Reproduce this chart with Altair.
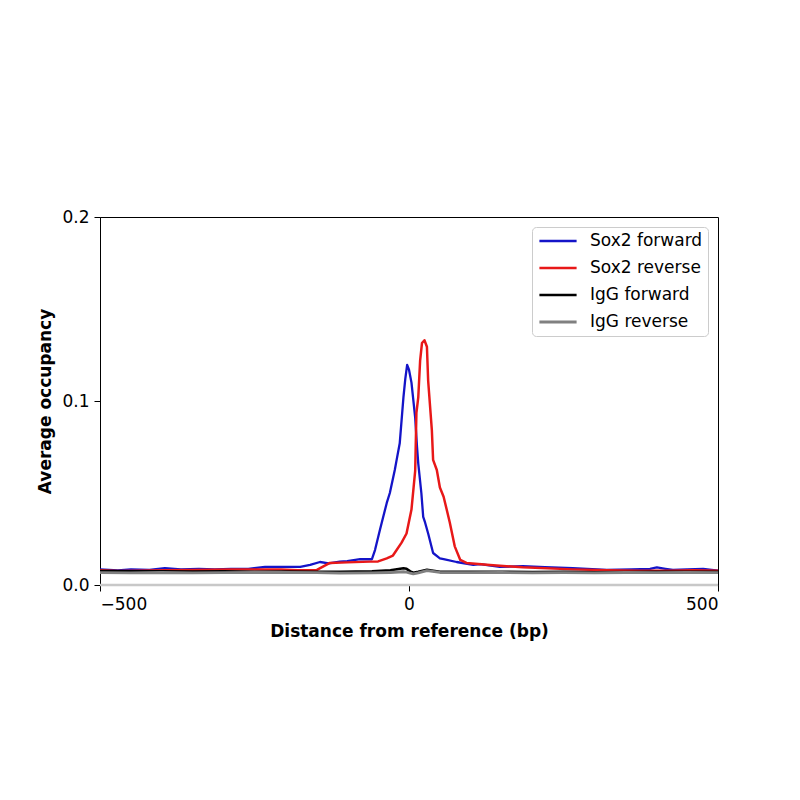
import altair as alt
import pandas as pd

series_names = ["Sox2 forward", "Sox2 reverse", "IgG forward", "IgG reverse"]
series_colors = ["#1414c8", "#e81818", "#000000", "#808080"]
series_widths = [2.3, 2.8, 2.2, 2.8]

# Sox2 forward
fwd_x = [-500, -471, -450, -420, -395, -369, -340, -314, -288, -260, -233, -200, -176, -160, -144,
         -130, -112, -100, -79, -70, -60, -55, -47, -36, -31, -23, -20, -15, -9, -6, -3, 0, 4, 10,
         13, 15, 20, 23, 26, 31, 39, 50, 56, 77, 104, 115, 147, 184, 220, 265, 320, 360, 390, 401,
         415, 427, 450, 476, 500]
fwd_y = [0.0085, 0.0080, 0.0085, 0.0082, 0.0092, 0.0085, 0.0087, 0.0085, 0.0088, 0.0088, 0.0098,
         0.0098, 0.0098, 0.0109, 0.0125, 0.0118, 0.0127, 0.0130, 0.0141, 0.0140, 0.0140, 0.0190,
         0.0300, 0.0446, 0.0500, 0.0625, 0.0680, 0.0770, 0.1020, 0.1120, 0.1196, 0.1170, 0.1100,
         0.0910, 0.0750, 0.0660, 0.0500, 0.0370, 0.0340, 0.0280, 0.0174, 0.0145, 0.0141, 0.0125,
         0.0109, 0.0114, 0.0098, 0.0103, 0.0097, 0.0091, 0.0082, 0.0085, 0.0088, 0.0096, 0.0088,
         0.0082, 0.0085, 0.0087, 0.0078]

# Sox2 reverse
rev_x = [-500, -471, -440, -395, -350, -288, -250, -207, -180, -149, -128, -100, -63, -50, -36,
         -26, -20, -12, -4, 4, 10, 12, 15, 18, 21, 25, 29, 31, 37, 39, 45, 50, 56, 66, 74, 83, 93,
         131, 184, 265, 320, 374, 420, 460, 500]
rev_y = [0.0080, 0.0076, 0.0078, 0.0080, 0.0082, 0.0085, 0.0085, 0.0085, 0.0080, 0.0082, 0.0120,
         0.0123, 0.0127, 0.0128, 0.0145, 0.0160, 0.0190, 0.0230, 0.0280, 0.0410, 0.0620, 0.0935,
         0.1020, 0.1220, 0.1315, 0.1330, 0.1295, 0.1110, 0.0840, 0.0680, 0.0625, 0.0530, 0.0480,
         0.0340, 0.0210, 0.0136, 0.0120, 0.0109, 0.0096, 0.0085, 0.0080, 0.0078, 0.0078, 0.0080,
         0.0078]

# IgG forward
igf_x = [-500, -450, -400, -350, -300, -250, -200, -150, -112, -60, -30, -9, -4, 2, 7, 15, 29, 50,
         100, 150, 200, 250, 300, 350, 400, 450, 500]
igf_y = [0.0076, 0.0074, 0.0075, 0.0073, 0.0074, 0.0072, 0.0073, 0.0072, 0.0072, 0.0075, 0.0080,
         0.0091, 0.0088, 0.0074, 0.0067, 0.0072, 0.0082, 0.0072, 0.0071, 0.0072, 0.0070, 0.0071,
         0.0069, 0.0070, 0.0072, 0.0071, 0.0072]

# IgG reverse
igr_x = [-500, -450, -400, -350, -300, -250, -200, -150, -112, -60, -30, -9, -4, 2, 7, 15, 29, 50,
         100, 150, 200, 250, 300, 350, 400, 450, 500]
igr_y = [0.0067, 0.0066, 0.0068, 0.0066, 0.0067, 0.0068, 0.0068, 0.0067, 0.0064, 0.0066, 0.0068,
         0.0072, 0.0070, 0.0064, 0.0060, 0.0066, 0.0078, 0.0068, 0.0067, 0.0068, 0.0066, 0.0067,
         0.0066, 0.0068, 0.0067, 0.0068, 0.0067]

x_ticks = [-500, 0, 500]
y_ticks = [0.0, 0.1, 0.2]

rows = []
for i, (xs, ys) in enumerate([(fwd_x, fwd_y), (rev_x, rev_y), (igf_x, igf_y), (igr_x, igr_y)]):
    for j, (xv, yv) in enumerate(zip(xs, ys)):
        rows.append({"series": series_names[i], "order": i, "idx": j, "x": xv, "y": yv})
df = pd.DataFrame(rows)

FONT = "DejaVu Sans"

legend = alt.Legend(
    title=None, orient="top-right", offset=10, padding=5.5,
    strokeColor="#cccccc", cornerRadius=4, fillColor="white",
    symbolType="M-1.1,0H5.1", symbolSize=144, symbolStrokeWidth=2.5,
    labelFontSize=17, labelFont=FONT, labelColor="black", labelOffset=35.5,
    rowPadding=9,
)

x_enc = alt.X("x:Q", scale=alt.Scale(domain=[-500, 500], nice=False),
              axis=alt.Axis(values=x_ticks, format="d", title="Distance from reference (bp)",
                            grid=False))
y_enc = alt.Y("y:Q", scale=alt.Scale(domain=[0, 0.2], nice=False),
              axis=alt.Axis(values=y_ticks, format=".1f", title="Average occupancy", grid=False))

zero_line = alt.Chart(pd.DataFrame({"y0": [0.0]})).mark_rule(
    color="#c8c8c8", strokeWidth=2.5
).encode(y="y0:Q")

lines = alt.Chart(df).mark_line(strokeJoin="round").encode(
    x=x_enc,
    y=y_enc,
    color=alt.Color("series:N", scale=alt.Scale(domain=series_names, range=series_colors),
                    legend=legend),
    strokeWidth=alt.StrokeWidth("series:N",
                                scale=alt.Scale(domain=series_names, range=series_widths),
                                legend=None),
    order=alt.Order("idx:Q"),
    detail="series:N",
)

chart = alt.layer(zero_line, lines).properties(
    width=618, height=368,
    autosize=alt.AutoSizeParams(type="none"),
    padding={"left": 92, "top": 209, "right": 50, "bottom": 90},
).configure_view(
    stroke="black", strokeWidth=1
).configure_axis(
    domainColor="black", domainWidth=1, tickColor="black", tickSize=6, tickWidth=1,
    labelFont=FONT, labelFontSize=17, labelColor="black", labelPadding=5,
    titleFont=FONT, titleFontSize=17, titleFontWeight="bold", titleColor="black",
).configure_axisX(titlePadding=11).configure_axisY(titlePadding=7)

chart.save("out.html", embed_options={"renderer": "svg", "actions": False})
